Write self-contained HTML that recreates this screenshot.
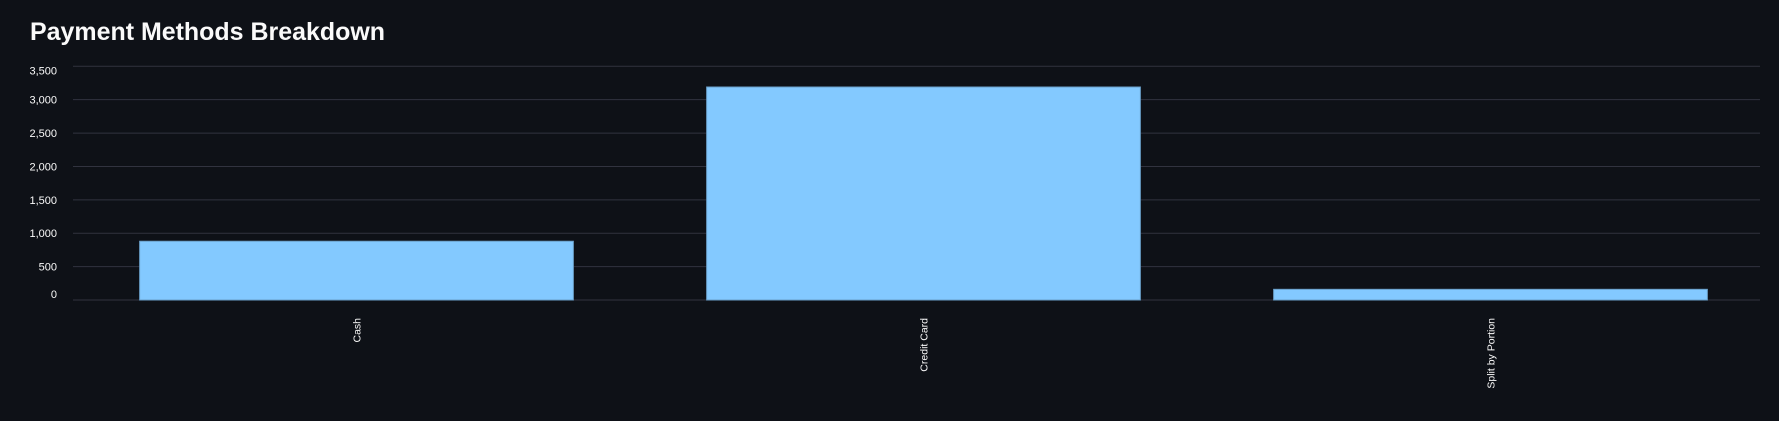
<!DOCTYPE html>
<html><head><meta charset="utf-8"><style>
html,body{margin:0;padding:0;background:#0e1117;width:1779px;height:421px;overflow:hidden}
svg{display:block;font-family:"Liberation Sans",sans-serif}
</style></head><body>
<svg id="chart" width="1779" height="421" viewBox="0 0 1779 421">
<text x="30" y="40" fill="#fafafa" font-size="25" font-weight="bold" textLength="355" lengthAdjust="spacingAndGlyphs">Payment Methods Breakdown</text>
<g id="grid"></g><g id="bars"></g><g id="labels"></g>
</svg>
<script>
const categories = ["Cash", "Credit Card", "Split by Portion"];
const counts = [880, 3190, 160];
const yTicks = [0, 500, 1000, 1500, 2000, 2500, 3000, 3500];
const yTickLabels = ["0", "500", "1,000", "1,500", "2,000", "2,500", "3,000", "3,500"];
const NS = "http://www.w3.org/2000/svg";
const x0 = 73, x1 = 1774, gridEnd = 1760, y0 = 300, yTop = 66.3, yMax = 3500;
const y = v => y0 - (v / yMax) * (y0 - yTop);
const step = (x1 - x0) / categories.length, bw = step * 0.765;
const xb = i => x0 + step * i + (step - bw) / 2;
function mk(tag, attrs, parent) { const e = document.createElementNS(NS, tag); for (const k in attrs) e.setAttribute(k, attrs[k]); parent.appendChild(e); return e; }
const grid = document.getElementById("grid"), bars = document.getElementById("bars"), labels = document.getElementById("labels");
yTicks.forEach((t, i) => {
  const l = mk("line", {x1: x0, x2: gridEnd, y1: y(t), y2: y(t), stroke: "#31333f", "stroke-width": 1}, grid);
  
  
  let ty = y(t) + 4;
  if (i === 0) ty = y(t) - 2; else if (i === yTicks.length - 1) ty = y(t) + 8;
  const tx = mk("text", {x: 57, y: ty, fill: "#fafafa", "font-size": 11, "text-anchor": "end"}, labels);
  tx.textContent = yTickLabels[i];
  
  
});
categories.forEach((c, i) => {
  const r = mk("rect", {x: xb(i), y: y(counts[i]), width: bw, height: y0 - y(counts[i]), fill: "#83c9ff", stroke: "#6a9fc9", "stroke-width": 1}, bars);
  
  
  const cx = xb(i) + bw / 2 + 4;
  const t = mk("text", {x: cx, y: 318, fill: "#fafafa", "font-size": 10.5, "text-anchor": "end", transform: `rotate(-90 ${cx} 318)`}, labels);
  t.textContent = c;
  
  
});
</script>
</body></html>
